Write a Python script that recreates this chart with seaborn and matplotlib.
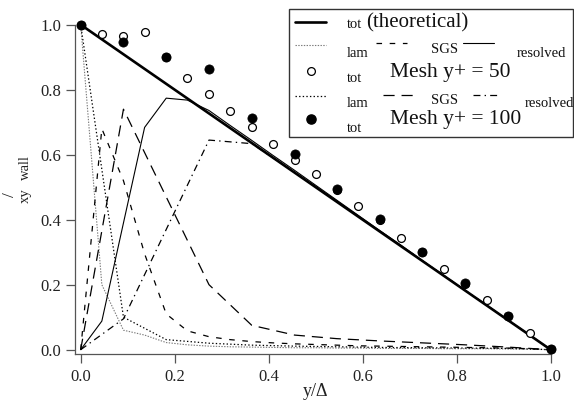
import matplotlib
matplotlib.use("Agg")
import matplotlib.pyplot as plt
from matplotlib.lines import Line2D
from matplotlib.patches import Rectangle
import seaborn as sns

# ---- theoretical total stress ----
x_theory = [0.0, 1.0]
tot_theory = [1.0, 0.0]

# ---- Mesh y+ = 50 ----
x50 = [0.000, 0.045, 0.091, 0.136, 0.182, 0.227, 0.273, 0.318, 0.364, 0.409, 0.455, 0.500,
       0.545, 0.591, 0.636, 0.682, 0.727, 0.773, 0.818, 0.864, 0.909, 0.955, 1.000]
tot50 = [1.000, 0.971, 0.966, 0.978, 0.900, 0.835, 0.786, 0.735, 0.684, 0.633, 0.585, 0.540,
         0.492, 0.443, 0.398, 0.345, 0.300, 0.247, 0.203, 0.153, 0.103, 0.052, 0.003]
lam50 = [1.000, 0.200, 0.060, 0.045, 0.022, 0.015, 0.011, 0.009, 0.008, 0.007, 0.006, 0.006,
         0.005, 0.005, 0.004, 0.004, 0.004, 0.003, 0.003, 0.003, 0.002, 0.002, 0.000]
sgs50 = [0.000, 0.680, 0.520, 0.295, 0.110, 0.058, 0.040, 0.031, 0.025, 0.021, 0.018, 0.016,
         0.014, 0.012, 0.011, 0.010, 0.009, 0.008, 0.007, 0.006, 0.005, 0.003, 0.000]
res50 = [0.000, 0.088, 0.390, 0.684, 0.774, 0.768, 0.736, 0.690, 0.644, 0.598, 0.552, 0.506,
         0.460, 0.413, 0.367, 0.321, 0.274, 0.228, 0.182, 0.137, 0.091, 0.046, 0.000]

# ---- Mesh y+ = 100 ----
x100 = [0.000, 0.091, 0.182, 0.273, 0.364, 0.455, 0.545, 0.636, 0.727, 0.818, 0.909, 1.000]
tot100 = [1.000, 0.946, 0.900, 0.864, 0.712, 0.601, 0.494, 0.402, 0.301, 0.204, 0.104, 0.003]
lam100 = [1.000, 0.100, 0.031, 0.020, 0.014, 0.011, 0.009, 0.007, 0.006, 0.005, 0.004, 0.000]
sgs100 = [0.000, 0.740, 0.470, 0.200, 0.075, 0.045, 0.034, 0.027, 0.021, 0.015, 0.008, 0.000]
res100 = [0.000, 0.095, 0.370, 0.645, 0.634, 0.546, 0.456, 0.365, 0.274, 0.183, 0.091, 0.000]

x_ticks = [0.0, 0.2, 0.4, 0.6, 0.8, 1.0]
y_ticks = [0.0, 0.2, 0.4, 0.6, 0.8, 1.0]

sns.set_style("ticks")
plt.rcParams["font.family"] = ["Liberation Serif", "DejaVu Serif"]
plt.rcParams["lines.scale_dashes"] = False

W, H = 574, 403
fig = plt.figure(figsize=(W / 100, H / 100), dpi=100)
fig.patch.set_facecolor("white")


def fx(px):
    return px / W


def fy(py):
    return 1 - py / H


ax = fig.add_axes([fx(75), fy(354.3), (W - 75) / W, 354.3 / H])
ax.set_xlim(-0.0121, 1.0496)
ax.set_ylim(-0.01415, 1.076)
ax.set_facecolor("white")

# line styles
ls_lam50 = (0, (1, 1))
ls_sgs50 = (0, (4, 5.5))
ls_lam100 = (0, (1, 1.6))
ls_sgs100 = (0, (8, 5))
ls_res100 = (0, (5, 3, 1, 3))

common = dict(ax=ax, estimator=None, sort=False, legend=False)
sns.lineplot(x=x50, y=lam50, color="#7a7a7a", lw=0.8, linestyle=ls_lam50, **common)
sns.lineplot(x=x50, y=sgs50, color="black", lw=0.9, linestyle=ls_sgs50, **common)
sns.lineplot(x=x50, y=res50, color="black", lw=0.8, **common)
sns.lineplot(x=x100, y=lam100, color="black", lw=0.9, linestyle=ls_lam100, **common)
sns.lineplot(x=x100, y=sgs100, color="black", lw=0.9, linestyle=ls_sgs100, **common)
sns.lineplot(x=x100, y=res100, color="black", lw=0.9, linestyle=ls_res100, **common)
sns.lineplot(x=x_theory, y=tot_theory, color="black", lw=1.9, **common)

sns.scatterplot(x=x50, y=tot50, ax=ax, marker="o", s=32, color="white",
                edgecolor="black", linewidth=0.9, clip_on=False, zorder=5, legend=False)
sns.scatterplot(x=x100, y=tot100, ax=ax, marker="o", s=44, color="black",
                edgecolor="black", linewidth=0.5, clip_on=False, zorder=6, legend=False)

# axes frame: only left/bottom, ending at the last tick
sns.despine(ax=ax)
for side in ("left", "bottom"):
    ax.spines[side].set_color("#555555")
    ax.spines[side].set_linewidth(0.9)
ax.spines["bottom"].set_bounds(-0.0121, 1.0)
ax.spines["left"].set_bounds(-0.01415, 1.0)

ax.set_xticks(x_ticks)
ax.set_yticks(y_ticks)
ax.set_xticklabels([f"{v:.1f}" for v in x_ticks])
ax.set_yticklabels([f"{v:.1f}" for v in y_ticks])
ax.tick_params(direction="out", length=6.5, width=0.9, color="#555555",
               labelsize=12, labelcolor="#222222")
ax.tick_params(axis="x", pad=4)
ax.tick_params(axis="y", pad=3.5)

ax.set_xlabel("y/\u0394", fontsize=13, color="#222222")
ax.xaxis.set_label_coords((315.7 - 75) / (W - 75), -(383 - 354.3) / 354.3)
ax.xaxis.label.set_va("top")

# y axis label pieces (rotated)
fig.text(fx(25), fy(196), "xy", rotation=90, fontsize=10.5, ha="center", va="center", color="#222222")
fig.text(fx(10.5), fy(195), "/", rotation=90, fontsize=12.5, ha="center", va="center", color="#222222")
fig.text(fx(25), fy(168), "wall", rotation=90, fontsize=10.5, ha="center", va="center", color="#222222")

# ---- legend box ----
fig.add_artist(Rectangle((fx(289), fy(137)), (573 - 289) / W, (137 - 9) / H,
                         transform=fig.transFigure, facecolor="white",
                         edgecolor="#333333", lw=1.0, zorder=10))


def sample(x0, x1, y, **kw):
    fig.add_artist(Line2D([fx(x0), fx(x1)], [fy(y), fy(y)], transform=fig.transFigure,
                          zorder=11, **kw))


def label(x, y, s, size):
    fig.text(fx(x), fy(y), s, fontsize=size, ha="left", va="baseline", color="#111111", zorder=11)


small, big = 10.5, 15.5
# row 1
sample(295, 326, 22, color="black", lw=1.9)
label(346.5, 28, "tot", small)
label(366.5, 27, "(theoretical)", 15)
# row 2
sample(295, 326, 44.5, color="#7a7a7a", lw=0.8, linestyle=ls_lam50)
label(347, 57, "lam", small)
sample(376, 407, 43.3, color="black", lw=0.9, linestyle=ls_sgs50)
label(431, 53, "SGS", small)
sample(463, 494, 43.3, color="black", lw=0.8)
label(516.7, 57, "resolved", small)
# row 3
fig.add_artist(Line2D([fx(310.7)], [fy(70.7)], transform=fig.transFigure, marker="o",
                      markersize=5.6, markerfacecolor="white", markeredgecolor="black",
                      markeredgewidth=0.9, linestyle="none", zorder=11))
label(346.5, 82, "tot", small)
label(390, 77, "Mesh y+ = 50", big)
# row 4
sample(295, 326, 95.5, color="black", lw=0.9, linestyle=ls_lam100)
label(347, 107, "lam", small)
sample(383, 415, 95, color="black", lw=0.9, linestyle=ls_sgs100)
label(431, 104, "SGS", small)
sample(473, 497, 95, color="black", lw=0.9, linestyle=ls_res100)
label(525, 107, "resolved", small)
# row 5
fig.add_artist(Line2D([fx(310.7)], [fy(119)], transform=fig.transFigure, marker="o",
                      markersize=6.6, markerfacecolor="black", markeredgecolor="black",
                      linestyle="none", zorder=11))
label(346.5, 132, "tot", small)
label(390.5, 124, "Mesh y+ = 100", big)

fig.savefig("out.png", dpi=100)
